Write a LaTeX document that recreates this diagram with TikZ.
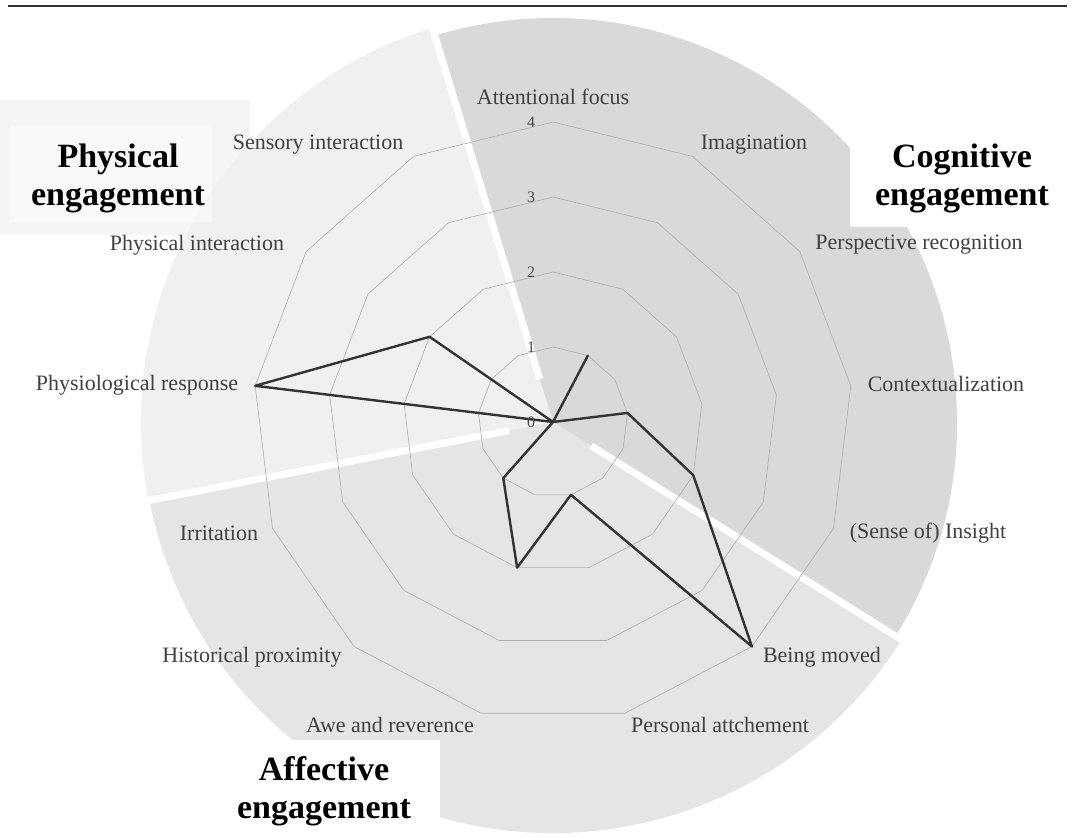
\documentclass[tikz,border=0pt]{standalone}
\usepackage{fontspec}
\setmainfont{Liberation Serif}
\begin{document}
\begin{tikzpicture}[x=1pt,y=1pt,
 lbl/.style={font=\fontsize{22}{24}\selectfont, text=black!75, inner sep=0pt},
 ttl/.style={font=\fontsize{34}{38}\selectfont\bfseries, align=center, inner sep=0pt, text=black},
 lvl/.style={font=\fontsize{16}{18}\selectfont, text=black!70, inner sep=0pt},
 gridline/.style={draw=black!32, line width=0.6pt},
 dataline/.style={draw=black!80, line width=2.4pt, line join=round},
 gapline/.style={draw=white, line width=7pt},
 titlebox/.style={fill=white, draw=none}]
\useasboundingbox (0,0) rectangle (1072,838);
\fill[white] (0,0) rectangle (1072,838);
\coordinate (C) at (553,416);
% soft background behind physical title
\fill[black!4] (0,603) rectangle (250,738);
% sectors
\fill[black!6] (C) -- ++(107:412) arc[start angle=107, end angle=191, radius=412] -- cycle;
\fill[black!15] (C) -- ++(-32:404) arc[start angle=-32, end angle=107, radius=404] -- cycle;
\fill[black!10] (C) -- ++(191:411) arc[start angle=191, end angle=328, radius=411] -- cycle;
% gaps between sectors
\draw[gapline] (C) ++(107:45) -- ++(107:420);
\draw[gapline] (C) ++(-32:45) -- ++(-32:420);
\draw[gapline] (C) ++(191:45) -- ++(191:420);
% title boxes
\fill[white, opacity=0.45] (10,616) rectangle (212,712);
\fill[titlebox] (850,611) rectangle (1072,715);
\fill[titlebox] (200,0) rectangle (440,98);
% grid
\begin{scope}[shift={(553,416)}]
 \foreach \r in {75,150,225,300}{
  \draw[gridline] (90:\r) \foreach \k in {1,...,12}{ -- ({90-\k*360/13}:\r) } -- cycle;
 }
 \foreach \v [count=\k from 0] in {0,1,0,1,2,4,1,2,1,0,4,2,0}
  \coordinate (d\k) at ({90-\k*360/13}:{75*\v});
\end{scope}
\draw[dataline] (d0) -- (d1) -- (d2) -- (d3) -- (d4) -- (d5) -- (d6) -- (d7) -- (d8) -- (d9) -- (d10) -- (d11) -- (d12) -- cycle;
% level numbers
\foreach \i in {0,...,4} \node[lvl] (lv\i) at (531,{416+75*\i}) {\i};
% axis labels
\node[lbl] (lAF) at (553,741) {Attentional focus};
\node[lbl] (lIM) at (754,693) {Imagination};
\node[lbl] (lPR) at (919,593) {Perspective recognition};
\node[lbl] (lCO) at (946,454) {Contextualization};
\node[lbl] (lIN) at (928,305) {(Sense of) Insight};
\node[lbl] (lBM) at (822,181) {Being moved};
\node[lbl] (lPA) at (720,113) {Personal attchement};
\node[lbl] (lAR) at (390,113) {Awe and reverence};
\node[lbl] (lHP) at (252,181) {Historical proximity};
\node[lbl] (lIR) at (219,305) {Irritation};
\node[lbl] (lPH) at (137,453) {Physiological response};
\node[lbl] (lPI) at (197,593) {Physical interaction};
\node[lbl] (lSI) at (318,693) {Sensory interaction};
% titles
\node[ttl] (tPhys) at (118,660) {Physical\\engagement};
\node[ttl] (tCog) at (962,660) {Cognitive\\engagement};
\node[ttl] (tAff) at (324,47) {Affective\\engagement};
% top rule
\coordinate (r1) at (8,832);
\coordinate (r2) at (1067,832);
\draw[line width=1.6pt, black!80] (r1) -- (r2);
\end{tikzpicture}
\end{document}
